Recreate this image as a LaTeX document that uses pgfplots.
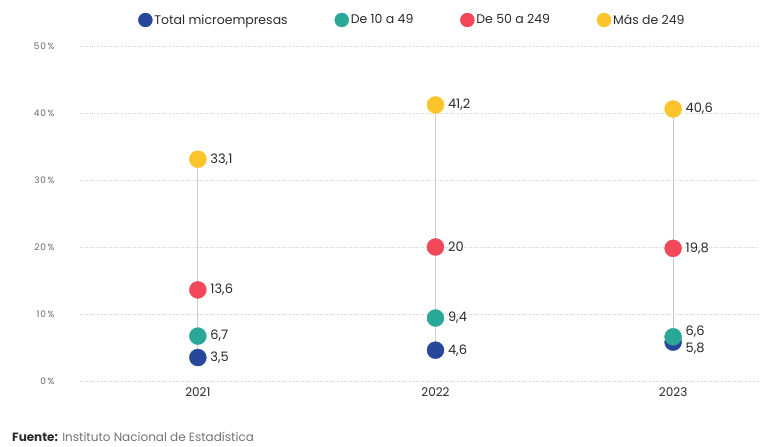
\documentclass[border=0pt]{standalone}
\usepackage{pgfplots}
\pgfplotsset{compat=1.18}
\usepackage{fontspec}
\setmainfont{Poppins}
\definecolor{cblue}{HTML}{27479B}
\definecolor{cteal}{HTML}{2AA897}
\definecolor{cred}{HTML}{F2485A}
\definecolor{cyellow}{HTML}{FAC42A}
\definecolor{labgray}{HTML}{2A2A2A}
\begin{document}
\begin{tikzpicture}[x=1pt,y=1pt]
\useasboundingbox (-80,-66) rectangle (699,381);
\begin{axis}[
  at={(0,0)}, anchor=south west,
  width=677pt, height=335pt, scale only axis,
  xmin=-0.496, xmax=2.353, ymin=0, ymax=50,
  axis line style={draw=none},
  xtick={0,1,2}, xticklabels={2021,2022,2023},
  ytick={0,10,20,30,40,50},
  yticklabels={0\,\%,10\,\%,20\,\%,30\,\%,40\,\%,50\,\%},
  major tick length=0,
  ymajorgrids, grid style={dotted, black!18, line width=0.7pt},
  yticklabel style={font=\fontsize{9}{10}\selectfont\addfontfeatures{LetterSpace=10}, text=black!60, xshift=-22pt},
  xticklabel style={font=\fontsize{12}{14}\selectfont, text=labgray, yshift=-3pt},
  legend columns=4,
  legend style={at={(0.5,1)}, anchor=center, xshift=-6pt, yshift=26pt, draw=none, fill=none,
    font=\fontsize{12.5}{14}\selectfont, text=labgray,
    /tikz/every even column/.append style={column sep=45pt}},
  legend image post style={mark size=7pt},
  legend cell align=left,
  every node near coord/.append style={anchor=west, xshift=9pt, font=\fontsize{13}{15}\selectfont, text=labgray},
  clip=false,
]
\addplot[black!20, line width=0.8pt, unbounded coords=jump, forget plot] coordinates {
(0,3.5) (0,33.1) (0,nan) (1,4.6) (1,41.2) (1,nan) (2,5.8) (2,40.6)};
\addplot[only marks, mark=*, mark size=8.5pt, color=cblue, mark options={draw=none, fill=cblue},
  nodes near coords, point meta=explicit symbolic,
  visualization depends on={value \thisrow{dy} \as \dy},
  every node near coord/.append style={yshift=\dy}]
  table[x=x, y=y, meta=lab] {
x y lab dy
0 3.5 {3,5} 0
1 4.6 {4,6} 0
2 5.8 {5,8} -7
};
\addlegendentry{Total microempresas}
\addplot[only marks, mark=*, mark size=8.5pt, color=cteal, mark options={draw=none, fill=cteal},
  nodes near coords, point meta=explicit symbolic,
  visualization depends on={value \thisrow{dy} \as \dy},
  every node near coord/.append style={yshift=\dy}]
  table[x=x, y=y, meta=lab] {
x y lab dy
0 6.7 {6,7} 0
1 9.4 {9,4} 0
2 6.6 {6,6} 5
};
\addlegendentry{De 10 a 49}
\addplot[only marks, mark=*, mark size=8.5pt, color=cred, mark options={draw=none, fill=cred},
  nodes near coords, point meta=explicit symbolic,
  visualization depends on={value \thisrow{dy} \as \dy},
  every node near coord/.append style={yshift=\dy}]
  table[x=x, y=y, meta=lab] {
x y lab dy
0 13.6 {13,6} 0
1 20 {20} 0
2 19.8 {19,8} 0
};
\addlegendentry{De 50 a 249}
\addplot[only marks, mark=*, mark size=8.5pt, color=cyellow, mark options={draw=none, fill=cyellow},
  nodes near coords, point meta=explicit symbolic,
  visualization depends on={value \thisrow{dy} \as \dy},
  every node near coord/.append style={yshift=\dy}]
  table[x=x, y=y, meta=lab] {
x y lab dy
0 33.1 {33,1} 0
1 41.2 {41,2} 0
2 40.6 {40,6} 0
};
\addlegendentry{Más de 249}
\end{axis}
\node[anchor=west, inner sep=0pt, font=\fontsize{12}{14}\selectfont, text=black!55] at (-68,-56) {\textbf{\textcolor{labgray}{Fuente:}} Instituto Nacional de Estadística};
\end{tikzpicture}
\end{document}
